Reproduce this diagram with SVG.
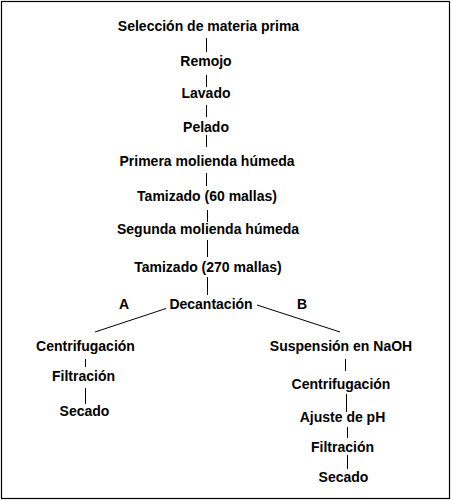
<svg xmlns="http://www.w3.org/2000/svg" width="451" height="501" viewBox="0 0 451 501">
<style>
text{font-family:"Liberation Sans",Arial,sans-serif;font-weight:bold;font-size:14px;fill:#000;text-anchor:middle}
.c line{stroke:#000;stroke-width:1}
</style>
<rect x="0" y="0" width="451" height="501" fill="#fff"/>
<rect x="1.5" y="1.5" width="448" height="497" fill="none" stroke="#000" stroke-width="1.2"/>
<g class="c" id="connectors">
<line x1="206.5" y1="38" x2="206.5" y2="52"/>
<line x1="206.5" y1="75" x2="206.5" y2="87"/>
<line x1="206.5" y1="105" x2="206.5" y2="117"/>
<line x1="206.5" y1="135" x2="206.5" y2="147"/>
<line x1="206.5" y1="173" x2="206.5" y2="186"/>
<line x1="207.5" y1="210" x2="207.5" y2="222"/>
<line x1="207.5" y1="240" x2="207.5" y2="257"/>
<line x1="207.5" y1="277" x2="207.5" y2="295"/>
<line x1="166" y1="308.5" x2="95" y2="332"/>
<line x1="257" y1="305" x2="340" y2="332"/>
<line x1="85.5" y1="359" x2="85.5" y2="367"/>
<line x1="85.5" y1="388" x2="85.5" y2="404"/>
<line x1="345.5" y1="359" x2="345.5" y2="371"/>
<line x1="346.5" y1="394" x2="346.5" y2="412"/>
<line x1="347.5" y1="427" x2="347.5" y2="438"/>
<line x1="347.5" y1="455" x2="347.5" y2="469"/>
</g>
<g id="n1"><text x="208.5" y="31">Selección de materia prima</text></g>
<g id="n2"><text x="206" y="66">Remojo</text></g>
<g id="n3"><text x="206" y="98">Lavado</text></g>
<g id="n4"><text x="206" y="132">Pelado</text></g>
<g id="n5"><text x="207" y="166">Primera molienda húmeda</text></g>
<g id="n6"><text x="207" y="201">Tamizado (60 mallas)</text></g>
<g id="n7"><text x="208" y="234">Segunda molienda húmeda</text></g>
<g id="n8"><text x="208" y="272">Tamizado (270 mallas)</text></g>
<g id="n9"><text x="211" y="308.5">Decantación</text></g>
<g id="la"><text x="124" y="308.5">A</text></g>
<g id="lb"><text x="302" y="308.5">B</text></g>
<g id="a1"><text x="85.5" y="351">Centrifugación</text></g>
<g id="a2"><text x="83.5" y="381">Filtración</text></g>
<g id="a3"><text x="84.5" y="416">Secado</text></g>
<g id="b1"><text x="341" y="351">Suspensión en NaOH</text></g>
<g id="b2"><text x="341" y="388.5">Centrifugación</text></g>
<g id="b3"><text x="342.5" y="422">Ajuste de pH</text></g>
<g id="b4"><text x="342.5" y="452">Filtración</text></g>
<g id="b5"><text x="343.5" y="482">Secado</text></g>
</svg>
